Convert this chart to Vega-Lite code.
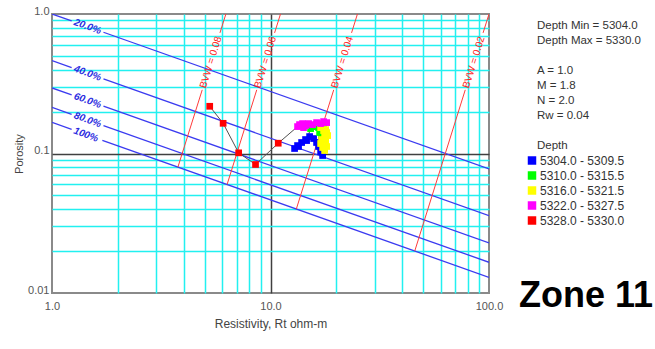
{
  "$schema": "https://vega.github.io/schema/vega-lite/v6.json",
  "width": 437,
  "height": 279,
  "autosize": "none",
  "padding": {"left": 52, "top": 14, "right": 166, "bottom": 56},
  "background": "white",
  "config": {
    "font": "Liberation Sans",
    "view": {"stroke": "#8a8a8a", "strokeWidth": 2}
  },
  "title": {
    "text": "Zone 11",
    "orient": "bottom",
    "anchor": "end",
    "frame": "group",
    "offset": 0,
    "dx": 164,
    "dy": -50,
    "font": "Liberation Sans",
    "fontSize": 36,
    "fontWeight": "bold",
    "color": "#000000"
  },
  "datasets": {
    "logs": [
      {"depth": 5304.0, "range": "5304.0 - 5309.5", "rt": 17.32, "phi": 0.0967},
      {"depth": 5304.5, "range": "5304.0 - 5309.5", "rt": 16.96, "phi": 0.1033},
      {"depth": 5305.0, "range": "5304.0 - 5309.5", "rt": 16.60, "phi": 0.1122},
      {"depth": 5305.5, "range": "5304.0 - 5309.5", "rt": 16.25, "phi": 0.1199},
      {"depth": 5306.0, "range": "5304.0 - 5309.5", "rt": 15.75, "phi": 0.1280},
      {"depth": 5306.5, "range": "5304.0 - 5309.5", "rt": 15.10, "phi": 0.1322},
      {"depth": 5307.0, "range": "5304.0 - 5309.5", "rt": 14.47, "phi": 0.1259},
      {"depth": 5307.5, "range": "5304.0 - 5309.5", "rt": 13.88, "phi": 0.1199},
      {"depth": 5308.0, "range": "5304.0 - 5309.5", "rt": 13.30, "phi": 0.1140},
      {"depth": 5308.5, "range": "5304.0 - 5309.5", "rt": 12.89, "phi": 0.1086},
      {"depth": 5309.0, "range": "5304.0 - 5309.5", "rt": 13.44, "phi": 0.1122},
      {"depth": 5309.5, "range": "5304.0 - 5309.5", "rt": 14.63, "phi": 0.1238},
      {"depth": 5310.0, "range": "5310.0 - 5315.5", "rt": 15.26, "phi": 0.1508},
      {"depth": 5310.5, "range": "5310.0 - 5315.5", "rt": 15.58, "phi": 0.1585},
      {"depth": 5311.0, "range": "5310.0 - 5315.5", "rt": 16.08, "phi": 0.1559},
      {"depth": 5311.5, "range": "5310.0 - 5315.5", "rt": 16.60, "phi": 0.1533},
      {"depth": 5312.0, "range": "5310.0 - 5315.5", "rt": 16.96, "phi": 0.1484},
      {"depth": 5312.5, "range": "5310.0 - 5315.5", "rt": 17.32, "phi": 0.1508},
      {"depth": 5313.0, "range": "5310.0 - 5315.5", "rt": 16.78, "phi": 0.1413},
      {"depth": 5313.5, "range": "5310.0 - 5315.5", "rt": 17.14, "phi": 0.1367},
      {"depth": 5314.0, "range": "5310.0 - 5315.5", "rt": 16.25, "phi": 0.1611},
      {"depth": 5314.5, "range": "5310.0 - 5315.5", "rt": 15.75, "phi": 0.1559},
      {"depth": 5315.0, "range": "5310.0 - 5315.5", "rt": 16.78, "phi": 0.1559},
      {"depth": 5315.5, "range": "5310.0 - 5315.5", "rt": 17.32, "phi": 0.1436},
      {"depth": 5316.0, "range": "5316.0 - 5321.5", "rt": 16.96, "phi": 0.1533},
      {"depth": 5316.5, "range": "5316.0 - 5321.5", "rt": 17.50, "phi": 0.1460},
      {"depth": 5317.0, "range": "5316.0 - 5321.5", "rt": 18.07, "phi": 0.1413},
      {"depth": 5317.5, "range": "5316.0 - 5321.5", "rt": 17.69, "phi": 0.1322},
      {"depth": 5318.0, "range": "5316.0 - 5321.5", "rt": 17.14, "phi": 0.1259},
      {"depth": 5318.5, "range": "5316.0 - 5321.5", "rt": 16.96, "phi": 0.1179},
      {"depth": 5319.0, "range": "5316.0 - 5321.5", "rt": 17.32, "phi": 0.1104},
      {"depth": 5319.5, "range": "5316.0 - 5321.5", "rt": 17.69, "phi": 0.1050},
      {"depth": 5320.0, "range": "5316.0 - 5321.5", "rt": 18.07, "phi": 0.1122},
      {"depth": 5320.5, "range": "5316.0 - 5321.5", "rt": 17.88, "phi": 0.1238},
      {"depth": 5321.0, "range": "5316.0 - 5321.5", "rt": 18.26, "phi": 0.1344},
      {"depth": 5321.5, "range": "5316.0 - 5321.5", "rt": 17.88, "phi": 0.1484},
      {"depth": 5322.0, "range": "5322.0 - 5327.5", "rt": 18.07, "phi": 0.1665},
      {"depth": 5322.5, "range": "5322.0 - 5327.5", "rt": 17.50, "phi": 0.1693},
      {"depth": 5323.0, "range": "5322.0 - 5327.5", "rt": 16.96, "phi": 0.1638},
      {"depth": 5323.5, "range": "5322.0 - 5327.5", "rt": 16.25, "phi": 0.1665},
      {"depth": 5324.0, "range": "5322.0 - 5327.5", "rt": 15.58, "phi": 0.1611},
      {"depth": 5324.5, "range": "5322.0 - 5327.5", "rt": 14.94, "phi": 0.1638},
      {"depth": 5325.0, "range": "5322.0 - 5327.5", "rt": 14.47, "phi": 0.1585},
      {"depth": 5325.5, "range": "5322.0 - 5327.5", "rt": 14.02, "phi": 0.1638},
      {"depth": 5326.0, "range": "5322.0 - 5327.5", "rt": 13.73, "phi": 0.1585},
      {"depth": 5326.5, "range": "5322.0 - 5327.5", "rt": 14.17, "phi": 0.1533},
      {"depth": 5327.0, "range": "5322.0 - 5327.5", "rt": 13.58, "phi": 0.1611},
      {"depth": 5327.5, "range": "5322.0 - 5327.5", "rt": 13.30, "phi": 0.1559},
      {"depth": 5328.0, "range": "5328.0 - 5330.0", "rt": 10.85, "phi": 0.1185},
      {"depth": 5328.5, "range": "5328.0 - 5330.0", "rt": 8.54, "phi": 0.0834},
      {"depth": 5329.0, "range": "5328.0 - 5330.0", "rt": 7.15, "phi": 0.1011},
      {"depth": 5329.5, "range": "5328.0 - 5330.0", "rt": 6.07, "phi": 0.1646},
      {"depth": 5330.0, "range": "5328.0 - 5330.0", "rt": 5.27, "phi": 0.218}
    ],
    "swLines": [
      {"sw": 0.2, "part": "left", "rt": 1, "phi": 1},
      {"sw": 0.2, "part": "left", "rt": 1.23, "phi": 0.8914},
      {"sw": 0.2, "part": "right", "rt": 1.72, "phi": 0.7398},
      {"sw": 0.2, "part": "right", "rt": 100, "phi": 0.07743},
      {"sw": 0.4, "part": "left", "rt": 1, "phi": 0.4628},
      {"sw": 0.4, "part": "left", "rt": 1.23, "phi": 0.4126},
      {"sw": 0.4, "part": "right", "rt": 1.72, "phi": 0.3424},
      {"sw": 0.4, "part": "right", "rt": 100, "phi": 0.03584},
      {"sw": 0.6, "part": "left", "rt": 1, "phi": 0.2950},
      {"sw": 0.6, "part": "left", "rt": 1.23, "phi": 0.2630},
      {"sw": 0.6, "part": "right", "rt": 1.72, "phi": 0.2183},
      {"sw": 0.6, "part": "right", "rt": 100, "phi": 0.02284},
      {"sw": 0.8, "part": "left", "rt": 1, "phi": 0.2143},
      {"sw": 0.8, "part": "left", "rt": 1.23, "phi": 0.1911},
      {"sw": 0.8, "part": "right", "rt": 1.72, "phi": 0.1586},
      {"sw": 0.8, "part": "right", "rt": 100, "phi": 0.01660},
      {"sw": 1.0, "part": "left", "rt": 1, "phi": 0.1673},
      {"sw": 1.0, "part": "left", "rt": 1.23, "phi": 0.1491},
      {"sw": 1.0, "part": "right", "rt": 1.70, "phi": 0.1243},
      {"sw": 1.0, "part": "right", "rt": 100, "phi": 0.01295}
    ],
    "swLabels": [
      {"label": "20.0%", "rt": 1.455, "phi": 0.812},
      {"label": "40.0%", "rt": 1.455, "phi": 0.3758},
      {"label": "60.0%", "rt": 1.455, "phi": 0.2395},
      {"label": "80.0%", "rt": 1.455, "phi": 0.1740},
      {"label": "100%", "rt": 1.43, "phi": 0.1362}
    ],
    "bvwLines": [
      {"bvw": 0.02, "part": "upper", "rt": 100, "phi": 1},
      {"bvw": 0.02, "part": "upper", "rt": 93.95, "phi": 0.732},
      {"bvw": 0.02, "part": "lower", "rt": 77.86, "phi": 0.286},
      {"bvw": 0.02, "part": "lower", "rt": 45.73, "phi": 0.02},
      {"bvw": 0.04, "part": "upper", "rt": 25, "phi": 1},
      {"bvw": 0.04, "part": "upper", "rt": 23.49, "phi": 0.732},
      {"bvw": 0.04, "part": "lower", "rt": 19.47, "phi": 0.286},
      {"bvw": 0.04, "part": "lower", "rt": 13.13, "phi": 0.04},
      {"bvw": 0.06, "part": "upper", "rt": 11.11, "phi": 1},
      {"bvw": 0.06, "part": "upper", "rt": 10.44, "phi": 0.732},
      {"bvw": 0.06, "part": "lower", "rt": 8.65, "phi": 0.286},
      {"bvw": 0.06, "part": "lower", "rt": 6.33, "phi": 0.06},
      {"bvw": 0.08, "part": "upper", "rt": 6.25, "phi": 1},
      {"bvw": 0.08, "part": "upper", "rt": 5.87, "phi": 0.732},
      {"bvw": 0.08, "part": "lower", "rt": 4.87, "phi": 0.286},
      {"bvw": 0.08, "part": "lower", "rt": 3.77, "phi": 0.08}
    ],
    "bvwLabels": [
      {"label": "BVW = 0.02", "rt": 85.24, "phi": 0.45},
      {"label": "BVW = 0.04", "rt": 21.31, "phi": 0.45},
      {"label": "BVW = 0.06", "rt": 9.47, "phi": 0.45},
      {"label": "BVW = 0.08", "rt": 5.33, "phi": 0.45}
    ]
  },
  "layer": [
    {
      "data": {"name": "swLines"},
      "mark": {"type": "line", "color": "#3b3bf0", "strokeWidth": 1.3, "clip": true},
      "encoding": {
        "x": {
          "field": "rt",
          "type": "quantitative",
          "scale": {"type": "log", "domain": [1, 100], "nice": false},
          "axis": {
            "title": "Resistivity, Rt ohm-m",
            "titleFont": "Liberation Sans",
            "titleFontSize": 12,
            "titleFontWeight": "normal",
            "titleColor": "#444444",
            "titlePadding": 7,
            "values": [1, 2, 3, 4, 5, 6, 7, 8, 9, 10, 20, 30, 40, 50, 60, 70, 80, 90, 100],
            "labelExpr": "datum.value == 1 || datum.value == 10 || datum.value == 100 ? format(datum.value, '.1f') : ''",
            "labelFont": "Liberation Sans",
            "labelFontSize": 11,
            "labelColor": "#555555",
            "labelPadding": 7,
            "labelFlush": false,
            "labelOverlap": false,
            "ticks": false,
            "tickSize": 0,
            "domain": false,
            "grid": true,
            "gridWidth": 1.5,
            "gridColor": {"condition": {"test": "datum.value == 10", "value": "#404040"}, "value": "#22f0f0"},
            "gridOpacity": {"condition": {"test": "datum.value == 1 || datum.value == 100", "value": 0}, "value": 1}
          }
        },
        "y": {
          "field": "phi",
          "type": "quantitative",
          "scale": {"type": "log", "domain": [0.01, 1], "nice": false},
          "axis": {
            "title": "Porosity",
            "titleFont": "Liberation Sans",
            "titleFontSize": 11,
            "titleFontWeight": "normal",
            "titleColor": "#444444",
            "titlePadding": 3,
            "values": [0.01, 0.02, 0.03, 0.04, 0.05, 0.06, 0.07, 0.08, 0.09, 0.1, 0.2, 0.3, 0.4, 0.5, 0.6, 0.7, 0.8, 0.9, 1],
            "labelExpr": "datum.value == 1 ? '1.0' : datum.value == 0.1 ? '0.1' : datum.value == 0.01 ? '0.01' : ''",
            "labelFont": "Liberation Sans",
            "labelFontSize": 11,
            "labelColor": "#555555",
            "labelPadding": 3,
            "labelBaseline": "alphabetic",
            "labelOverlap": false,
            "ticks": false,
            "tickSize": 0,
            "domain": false,
            "grid": true,
            "gridWidth": 1.5,
            "gridColor": {"condition": {"test": "datum.value == 0.1", "value": "#404040"}, "value": "#22f0f0"},
            "gridOpacity": {"condition": {"test": "datum.value == 0.01 || datum.value == 1", "value": 0}, "value": 1}
          }
        },
        "detail": [{"field": "sw"}, {"field": "part"}]
      }
    },
    {
      "data": {"name": "bvwLines"},
      "mark": {"type": "line", "color": "#ff3b3b", "strokeWidth": 1, "clip": true},
      "encoding": {
        "x": {"field": "rt", "type": "quantitative"},
        "y": {"field": "phi", "type": "quantitative"},
        "detail": [{"field": "bvw"}, {"field": "part"}]
      }
    },
    {
      "data": {"name": "swLabels"},
      "mark": {
        "type": "text",
        "angle": 19.65,
        "align": "center",
        "baseline": "middle",
        "font": "Liberation Sans",
        "fontSize": 10,
        "fontWeight": "bold",
        "fontStyle": "italic",
        "color": "#2a2ae0"
      },
      "encoding": {
        "x": {"field": "rt", "type": "quantitative"},
        "y": {"field": "phi", "type": "quantitative"},
        "text": {"field": "label"}
      }
    },
    {
      "data": {"name": "bvwLabels"},
      "mark": {
        "type": "text",
        "angle": 287.3,
        "align": "center",
        "baseline": "middle",
        "font": "Liberation Sans",
        "fontSize": 10,
        "color": "#ff2020"
      },
      "encoding": {
        "x": {"field": "rt", "type": "quantitative"},
        "y": {"field": "phi", "type": "quantitative"},
        "text": {"field": "label"}
      }
    },
    {
      "data": {"name": "logs"},
      "mark": {"type": "line", "color": "#505050", "strokeWidth": 1},
      "encoding": {
        "x": {"field": "rt", "type": "quantitative"},
        "y": {"field": "phi", "type": "quantitative"},
        "order": {"field": "depth", "type": "quantitative"}
      }
    },
    {
      "data": {"name": "logs"},
      "mark": {"type": "square", "size": 45, "opacity": 1},
      "encoding": {
        "x": {"field": "rt", "type": "quantitative"},
        "y": {"field": "phi", "type": "quantitative"},
        "color": {
          "field": "range",
          "type": "nominal",
          "scale": {
            "domain": ["5304.0 - 5309.5", "5310.0 - 5315.5", "5316.0 - 5321.5", "5322.0 - 5327.5", "5328.0 - 5330.0"],
            "range": ["#0000ff", "#00ff00", "#ffff00", "#ff00ff", "#ff0000"]
          },
          "legend": {
            "orient": "none",
            "legendX": 485,
            "legendY": 6,
            "padding": 0,
            "title": ["Depth Min = 5304.0", "Depth Max = 5330.0", "\u200b", "A = 1.0", "M = 1.8", "N = 2.0", "Rw = 0.04", "\u200b", "Depth"],
            "titleFont": "Liberation Sans",
            "titleFontSize": 11.5,
            "titleFontWeight": "normal",
            "titleColor": "#333333",
            "titleLineHeight": 15,
            "titlePadding": 3,
            "symbolType": "square",
            "symbolSize": 72,
            "symbolStrokeWidth": 0,
            "symbolOffset": -11,
            "labelFont": "Liberation Sans",
            "labelFontSize": 12,
            "labelColor": "#333333",
            "labelOffset": 2,
            "rowPadding": 3
          }
        }
      }
    }
  ]
}
